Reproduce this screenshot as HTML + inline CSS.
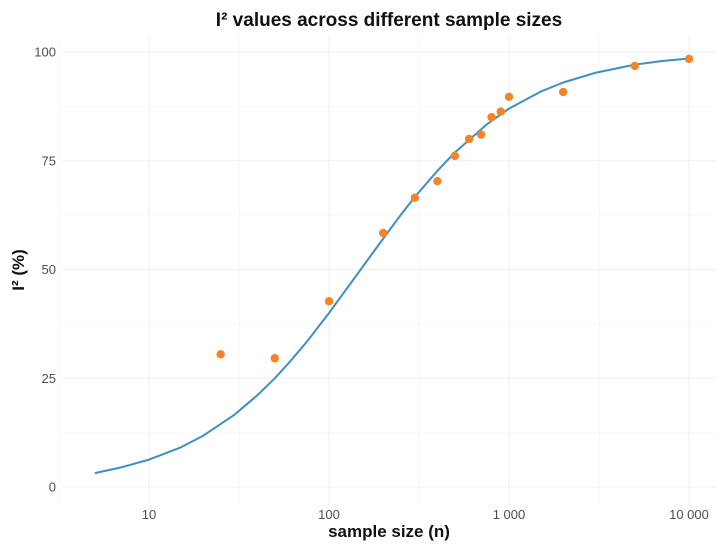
<!DOCTYPE html>
<html><head><meta charset="utf-8"><style>
body{margin:0;background:#fff;font-family:"Liberation Sans",sans-serif}
</style></head><body>
<svg id="chart" width="727" height="550" xmlns="http://www.w3.org/2000/svg" font-family="Liberation Sans, sans-serif">
<rect width="727" height="550" fill="#fff"/>
<g id="grid"></g><g id="ticks"></g><g id="curve"></g><g id="points"></g>
<text x="389" y="26" text-anchor="middle" font-size="19" font-weight="bold" fill="#111">I² values across different sample sizes</text>
<text x="389" y="537" text-anchor="middle" font-size="17" font-weight="bold" fill="#111">sample size (n)</text>
<text transform="translate(24,270) rotate(-90)" text-anchor="middle" font-size="17" font-weight="bold" fill="#111">I² (%)</text>
</svg>
<script>
const pointN=[25,50,100,200,300,400,500,600,700,800,900,1000,2000,5000,10000];
const pointI2=[30.5,29.6,42.7,58.4,66.5,70.3,76.1,80.0,81.0,85.0,86.3,89.7,90.8,96.8,98.4];
const curveN=[5,7,10,15,20,30,40,50,60,75,100,125,150,200,250,300,400,500,750,1000,1500,2000,3000,5000,7000,10000];
const curveI2=[3.2,4.5,6.3,9.1,11.8,16.7,21.1,25,28.6,33.3,40,45.5,50,57.1,62.5,66.7,72.7,76.9,83.3,87,90.9,93,95.2,97.1,97.9,98.5];
const xTicks=[10,100,1000,10000];
const xTickLabels=["10","100","1 000","10 000"];
const yTicks=[0,25,50,75,100];
const NS="http://www.w3.org/2000/svg";
const X0=62,X1=716,Y0=37,Y1=505;
function x(n){return 149+180*Math.log10(n/10);}
function y(v){return 487-v*4.35;}
function mk(t,a,p){const e=document.createElementNS(NS,t);for(const k in a)e.setAttribute(k,a[k]);p.appendChild(e);return e;}
const g=document.getElementById('grid'),tk=document.getElementById('ticks');
for(let i=0;i<yTicks.length;i++){
  const l=mk('line',{x1:X0,x2:X1,y1:y(yTicks[i]),y2:y(yTicks[i]),stroke:'#efefef','stroke-width':1},g);
  
  
  if(i<yTicks.length-1){const m=(yTicks[i]+yTicks[i+1])/2;
    const ml=mk('line',{x1:X0,x2:X1,y1:y(m),y2:y(m),stroke:'#f4f4f4','stroke-width':0.6},g);
    
    }
  const t=mk('text',{x:56,y:y(yTicks[i])+4.5,'text-anchor':'end','font-size':13,fill:'#4d4d4d'},tk);
  t.textContent=yTicks[i];
  
  
}
for(let i=0;i<xTicks.length;i++){
  const l=mk('line',{x1:x(xTicks[i]),x2:x(xTicks[i]),y1:Y0,y2:Y1,stroke:'#efefef','stroke-width':1},g);
  
  
  const mv=[xTicks[i]/Math.sqrt(10)];
  if(i<xTicks.length-1)mv.push(xTicks[i]*Math.sqrt(10));
  for(const m of mv){const ml=mk('line',{x1:x(m),x2:x(m),y1:Y0,y2:Y1,stroke:'#f4f4f4','stroke-width':0.6},g);
    
    }
  const t=mk('text',{x:x(xTicks[i]),y:519,'text-anchor':'middle','font-size':13,fill:'#4d4d4d'},tk);
  t.textContent=xTickLabels[i];
  
  
}
let d='';curveN.forEach((n,i)=>{d+=(i?'L':'M')+x(n).toFixed(1)+','+y(curveI2[i]).toFixed(1);});
const p=mk('path',{d:d,fill:'none',stroke:'#3f8fc4','stroke-width':2,'stroke-linejoin':'round'},document.getElementById('curve'));


const pg=document.getElementById('points');
pointN.forEach((n,i)=>{const c=mk('circle',{cx:x(n),cy:y(pointI2[i]),r:4.2,fill:'#f58426'},pg);
  
  });
</script>
</body></html>
